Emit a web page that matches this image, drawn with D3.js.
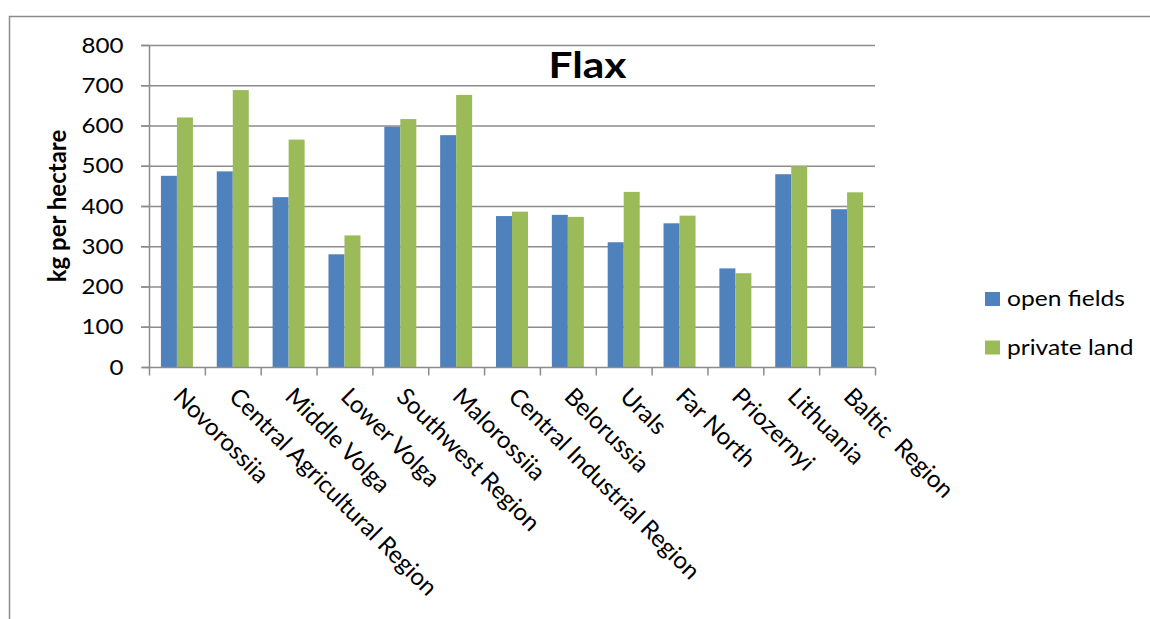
<!DOCTYPE html>
<html>
<head>
<meta charset="utf-8">
<script src="https://cdn.jsdelivr.net/npm/d3@7/dist/d3.min.js"></script>
<style>
  html, body { margin: 0; padding: 0; background: #fff; }
  svg { display: block; font-family: Lato, "Open Sans", sans-serif; }
</style>
</head>
<body>
<svg id="chart" width="1150" height="619"></svg>
<script>
const categories = ["Novorossiia", "Central Agricultural Region", "Middle Volga", "Lower Volga",
  "Southwest Region", "Malorossiia", "Central Industrial Region", "Belorussia", "Urals",
  "Far North", "Priozernyi", "Lithuania", "Baltic  Region"];
const openFields  = [475, 486, 422, 280, 597, 576, 375, 378, 310, 357, 245, 479, 392];
const privateLand = [620, 688, 565, 327, 616, 676, 386, 373, 435, 376, 233, 499, 434];
const seriesNames = ["open fields", "private land"];
const yTicks = [0, 100, 200, 300, 400, 500, 600, 700, 800];
const colors = ["#4F81BD", "#9BBB59"];
const gridColor = "#8c8c8c";

const svg = d3.select("#chart");
const pLeft = 149, pRight = 875, pTop = 45, pBottom = 367;

// outer chart border
svg.append("path").attr("d", `M9.5,619 V16.5 H1150`).attr("fill", "none")
  .attr("stroke", "#8c8c8c").attr("stroke-width", 1.5);

const x = d3.scaleBand().domain(categories).range([pLeft, pRight]).paddingInner(0).paddingOuter(0);
const y = d3.scaleLinear().domain([0, 800]).range([pBottom, pTop]);

// gridlines
svg.append("g").selectAll("line").data(yTicks.filter(d => d > 0)).join("line")
  .attr("x1", pLeft - 8).attr("x2", pRight).attr("y1", d => y(d) + 0.5).attr("y2", d => y(d) + 0.5)
  .attr("stroke", gridColor).attr("stroke-width", 1.5);

// bars
const bw = 16;
const series = [openFields, privateLand];
series.forEach((vals, si) => {
  svg.append("g").selectAll("rect").data(vals).join("rect")
    .attr("x", (d, i) => x(categories[i]) + x.bandwidth() / 2 - bw + si * bw)
    .attr("y", d => y(d))
    .attr("width", bw)
    .attr("height", d => y(0) - y(d))
    .attr("fill", colors[si]);
});

// y axis
const yAxis = d3.axisLeft(y).tickValues(yTicks).tickSize(8).tickPadding(0);
const gy = svg.append("g").attr("transform", `translate(${pLeft + 0.5},0)`).call(yAxis);
gy.select(".domain").attr("stroke", gridColor).attr("stroke-width", 1.5).attr("d", `M-8,${pBottom + 0.5}H0V${pTop}`);
gy.selectAll(".tick line").attr("stroke", gridColor).attr("stroke-width", 1.5);
gy.selectAll(".tick text").attr("x", 0).attr("dy", "0.34em")
  .attr("transform", "translate(-26,0) scale(1.15,1)")
  .attr("font-size", 21).attr("fill", "#000").attr("font-family", "Lato, sans-serif");

// x axis
const xAxis = d3.axisBottom(x).tickSize(0).tickFormat("");
const gx = svg.append("g").attr("transform", `translate(0,${pBottom + 0.5})`).call(xAxis);
gx.select(".domain").attr("stroke", gridColor).attr("stroke-width", 1.5).attr("d", `M${pLeft},0H${pRight}`);
const bounds = categories.map(c => x(c)).concat([pRight]);
gx.selectAll("line.sep").data(bounds).join("line").attr("class", "sep")
  .attr("x1", d => d + 0.5).attr("x2", d => d + 0.5).attr("y1", 0).attr("y2", 8)
  .attr("stroke", gridColor).attr("stroke-width", 1.5);

// category labels rotated 45
svg.append("g").selectAll("text").data(categories).join("text")
  .attr("transform", d => `translate(${x(d) + x.bandwidth() / 2 + 1},${pBottom + 25}) rotate(45)`)
  .attr("font-size", 24).attr("fill", "#000")
  .attr("dy", "0.35em")
  .attr("xml:space", "preserve")
  .style("white-space", "pre")
  .text(d => d);

// title
svg.append("text").attr("transform", "translate(587.5,78) scale(1.18,1)").attr("text-anchor", "middle")
  .attr("font-size", 36).attr("font-weight", "bold").attr("fill", "#000").text("Flax");

// y axis title
svg.append("text").attr("transform", `translate(66,206) rotate(-90)`)
  .attr("text-anchor", "middle").attr("font-size", 24).attr("font-weight", "bold").attr("fill", "#000")
  .text("kg per hectare");

// legend
const lg = svg.append("g");
seriesNames.forEach((n, i) => {
  lg.append("rect").attr("x", 985).attr("y", 292 + i * 48.5).attr("width", 15).attr("height", 14).attr("fill", colors[i]);
  lg.append("text").attr("transform", `translate(1007,${306 + i * 48.5}) scale(1.17,1)`)
    .attr("font-size", 21).attr("fill", "#000").text(n);
});
</script>
</body>
</html>
